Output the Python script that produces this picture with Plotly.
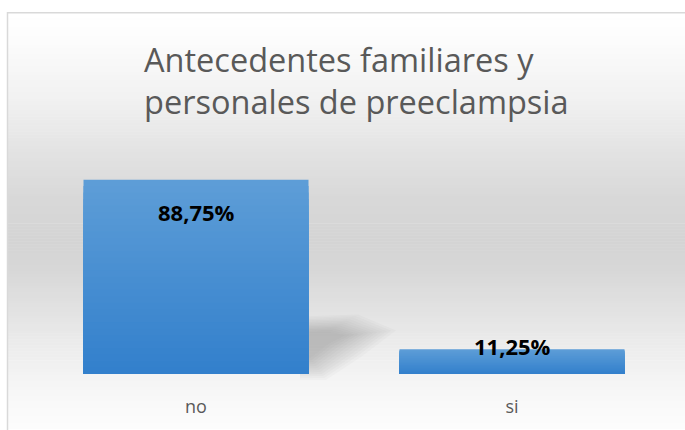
import plotly.graph_objects as go

# ---------------- data ----------------
categories = ["no", "si"]
values = [88.75, 11.25]
labels = ["88,75%", "11,25%"]
title_lines = ["Antecedentes familiares y", "personales de preeclampsia"]

# ---------------- layout geometry (pixels) ----------------
W, H = 685, 430
L, R, T, B = 38, 15, 155, 54
PW, PH = W - L - R, H - T - B


def px(x):
    return (x - L) / PW


def py(y):
    return (H - B - y) / PH


FONT = "Open Sans"
GREY_TXT = "#595959"

fig = go.Figure()

# gradient bars: overlaid layers of decreasing height
top_c = (93, 157, 215)
bot_c = (51, 128, 204)
N = 30
for k in range(N):
    t = k / (N - 1)
    c = tuple(round(top_c[i] + (bot_c[i] - top_c[i]) * t) for i in range(3))
    fig.add_trace(go.Bar(
        x=categories,
        y=[v * (1 - k / N) for v in values],
        marker=dict(color="rgb(%d,%d,%d)" % c, line=dict(width=0)),
        showlegend=False,
        hoverinfo="skip" if k else "x+y",
    ))

shapes = []
# background gradient of chart area
stops = [(11, 255), (40, 252), (100, 241), (150, 227), (200, 216), (240, 212),
         (270, 215), (300, 223), (340, 234), (376, 243), (400, 248), (430, 252)]


def grey_at(y):
    for (y0, g0), (y1, g1) in zip(stops, stops[1:]):
        if y0 <= y <= y1:
            return g0 + (g1 - g0) * (y - y0) / (y1 - y0)
    return stops[-1][1]


step = 3
y = 11
while y < H:
    g = round(grey_at(y + step / 2))
    shapes.append(dict(type="rect", xref="paper", yref="paper", layer="below",
                       x0=px(7), x1=px(W + 5), y0=py(y), y1=py(min(y + step, H + 2) + 0.5),
                       fillcolor="rgb(%d,%d,%d)" % (g, g, g), line=dict(width=0)))
    y += step

# soft perspective shadow behind first bar (nested translucent layers)
core = [(300, 334), (328, 333), (345, 337), (328, 346), (310, 360), (300, 362)]
outer = [(300, 318), (358, 316), (396, 332), (362, 358), (326, 382), (300, 382)]
NL = 12
for j in range(NL):
    f = j / (NL - 1)
    poly = [(c[0] + (o[0] - c[0]) * f, c[1] + (o[1] - c[1]) * f) for c, o in zip(core, outer)]
    path = "M " + " L ".join("%f,%f" % (px(a), py(b)) for a, b in poly) + " Z"
    shapes.append(dict(type="path", xref="paper", yref="paper", layer="below",
                       path=path, fillcolor="rgb(90,90,90)", opacity=0.03,
                       line=dict(width=0)))

# chart border
shapes.append(dict(type="rect", xref="paper", yref="paper", layer="above",
                   x0=px(7.5), x1=px(W + 10), y0=py(11.5), y1=py(H + 10),
                   line=dict(color="#d9d9d9", width=1.5), fillcolor="rgba(0,0,0,0)"))

annotations = []
# data labels
label_shift = [-32, 3]
for cat, v, lab, s in zip(categories, values, labels, label_shift):
    annotations.append(dict(x=cat, y=v, xref="x", yref="y", text=lab,
                            showarrow=False, yanchor="middle", yshift=s,
                            font=dict(family=FONT, size=22, color="#000000", weight="bold")))

# title (left-aligned block)
annotations.append(dict(x=px(142), y=py(80), xref="paper", yref="paper",
                        xanchor="left", yanchor="middle", align="left",
                        text="<br>".join(title_lines), showarrow=False,
                        font=dict(family=FONT, size=32.5, color=GREY_TXT)))

fig.update_layout(
    width=W, height=H,
    margin=dict(l=L, r=R, t=T, b=B),
    paper_bgcolor="white",
    plot_bgcolor="rgba(0,0,0,0)",
    barmode="overlay",
    bargap=0.288,
    shapes=shapes,
    annotations=annotations,
    xaxis=dict(showgrid=False, zeroline=False, showline=False, ticks="",
               tickfont=dict(family=FONT, size=18, color=GREY_TXT),
               ticklabelstandoff=20, fixedrange=True),
    yaxis=dict(range=[0, 100], visible=False, fixedrange=True),
)

fig.write_html("out.html", config={"displayModeBar": False},
               post_script="document.body.style.margin='0';")
